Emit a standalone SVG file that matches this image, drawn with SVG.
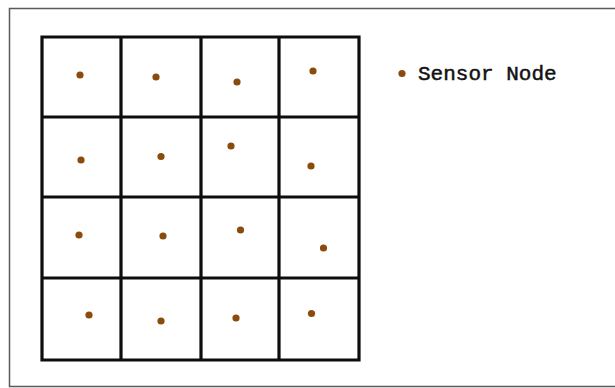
<svg xmlns="http://www.w3.org/2000/svg" width="615" height="388" viewBox="0 0 615 388">
<style>
.frame{fill:none;stroke:#5a5a5a;stroke-width:1.5}
.grid{fill:none;stroke:#0d0d0d;stroke-width:3.2;stroke-linecap:square}
.node{fill:#8a4b0c}
.lbl{font-family:"Liberation Mono","Courier New",monospace;font-size:21px;fill:#111;stroke:#111;stroke-width:0.5}
</style>
<rect width="615" height="388" fill="#ffffff"/>
<path class="frame" d="M615,8.5 H9.5 V386.5 H615"/>
<g id="grid">
<path class="grid" d="M42,37 V360 M121,37 V360 M201,37 V360 M279,37 V360 M359,37 V360 M42,37 H359 M42,117 H359 M42,197 H359 M42,278 H359 M42,360 H359"/>
</g>
<g id="nodes">
<circle class="node" cx="80" cy="75" r="3.6"/>
<circle class="node" cx="156" cy="77" r="3.6"/>
<circle class="node" cx="237" cy="82" r="3.6"/>
<circle class="node" cx="313" cy="71" r="3.6"/>
<circle class="node" cx="81" cy="160" r="3.6"/>
<circle class="node" cx="161" cy="156.5" r="3.6"/>
<circle class="node" cx="231" cy="146" r="3.6"/>
<circle class="node" cx="311" cy="166" r="3.6"/>
<circle class="node" cx="79" cy="235" r="3.6"/>
<circle class="node" cx="163" cy="236" r="3.6"/>
<circle class="node" cx="240.5" cy="230" r="3.6"/>
<circle class="node" cx="323.5" cy="248" r="3.6"/>
<circle class="node" cx="89" cy="315" r="3.6"/>
<circle class="node" cx="161" cy="321" r="3.6"/>
<circle class="node" cx="236" cy="318" r="3.6"/>
<circle class="node" cx="311.5" cy="313.5" r="3.6"/>
</g>
<g id="legend">
<circle class="node" cx="402" cy="73.5" r="3.6"/>
<text class="lbl" x="418" y="79.5">Sensor Node</text>
</g>
</svg>
